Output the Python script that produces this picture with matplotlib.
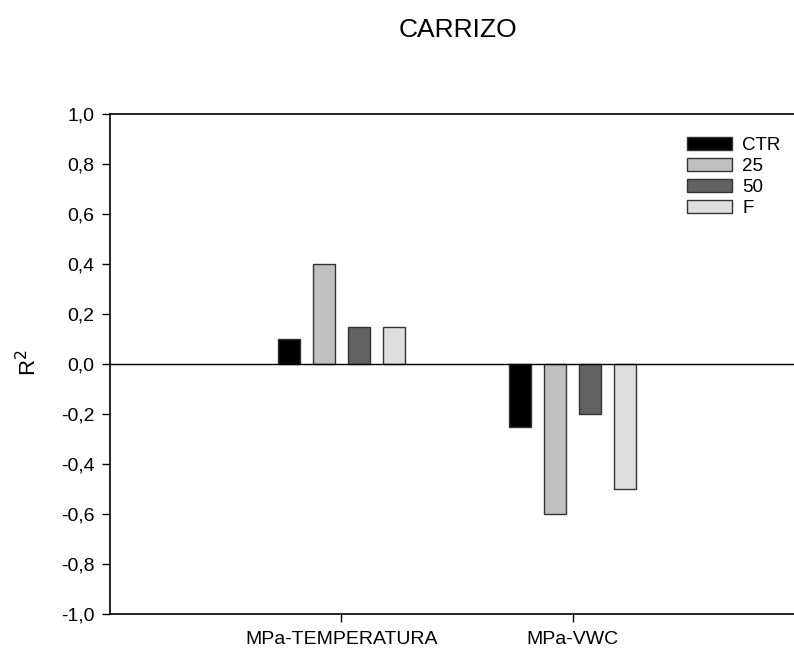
import numpy as np
import matplotlib.pyplot as plt
from matplotlib.ticker import FuncFormatter

plt.rcParams['font.family'] = ['Liberation Sans', 'DejaVu Sans']

categorias = ['MPa-TEMPERATURA', 'MPa-VWC']
series = ['CTR', '25', '50', 'F']
valores = {
    'CTR': [0.10, -0.25],
    '25': [0.40, -0.60],
    '50': [0.15, -0.20],
    'F': [0.15, -0.50],
}
colores = ['#000000', '#c0c0c0', '#626262', '#dedede']

fig = plt.figure(figsize=(7.94, 6.5), dpi=100)
ax = fig.add_axes([110/794, 36/650, 694/794, 500/650])

x = np.arange(len(categorias))
paso = 0.1515
ancho = 0.095
for i, s in enumerate(series):
    ax.bar(x + (i - 1.5)*paso, valores[s], width=ancho, color=colores[i],
           edgecolor='#333333', linewidth=1, label=s, zorder=2)

ax.axhline(0, color='black', linewidth=1, zorder=3)
ax.set_xlim(-1, 2)
ax.set_ylim(-1, 1)
ax.set_yticks(np.arange(-1, 1.01, 0.2))
ax.yaxis.set_major_formatter(FuncFormatter(lambda v, p: f'{v:.1f}'.replace('.', ',').replace('-0,0', '0,0')))
ax.set_xticks(x)
ax.set_xticklabels(categorias)
ax.tick_params(axis='both', direction='out', length=6, width=1, labelsize=14)
ax.tick_params(axis='x', pad=6)
ax.tick_params(axis='y', pad=5)
ax.spines['right'].set_visible(False)
for sp in ['left', 'top', 'bottom']:
    ax.spines[sp].set_linewidth(1.2)

fig.text(458/794, 1 - 30/650, 'CARRIZO', ha='center', va='center', fontsize=19)
fig.text(29/794, 1 - 363/650, 'R$^2$', ha='center', va='center', rotation=90, fontsize=16)

ax.legend(loc='upper left', bbox_to_anchor=(687/794, 1 - 137/650), bbox_transform=fig.transFigure,
          frameon=False, fontsize=13.5, handlelength=2.4, handleheight=0.72,
          labelspacing=0.2, handletextpad=0.55, borderaxespad=0, borderpad=0)

fig.savefig('out.png', dpi=100)
